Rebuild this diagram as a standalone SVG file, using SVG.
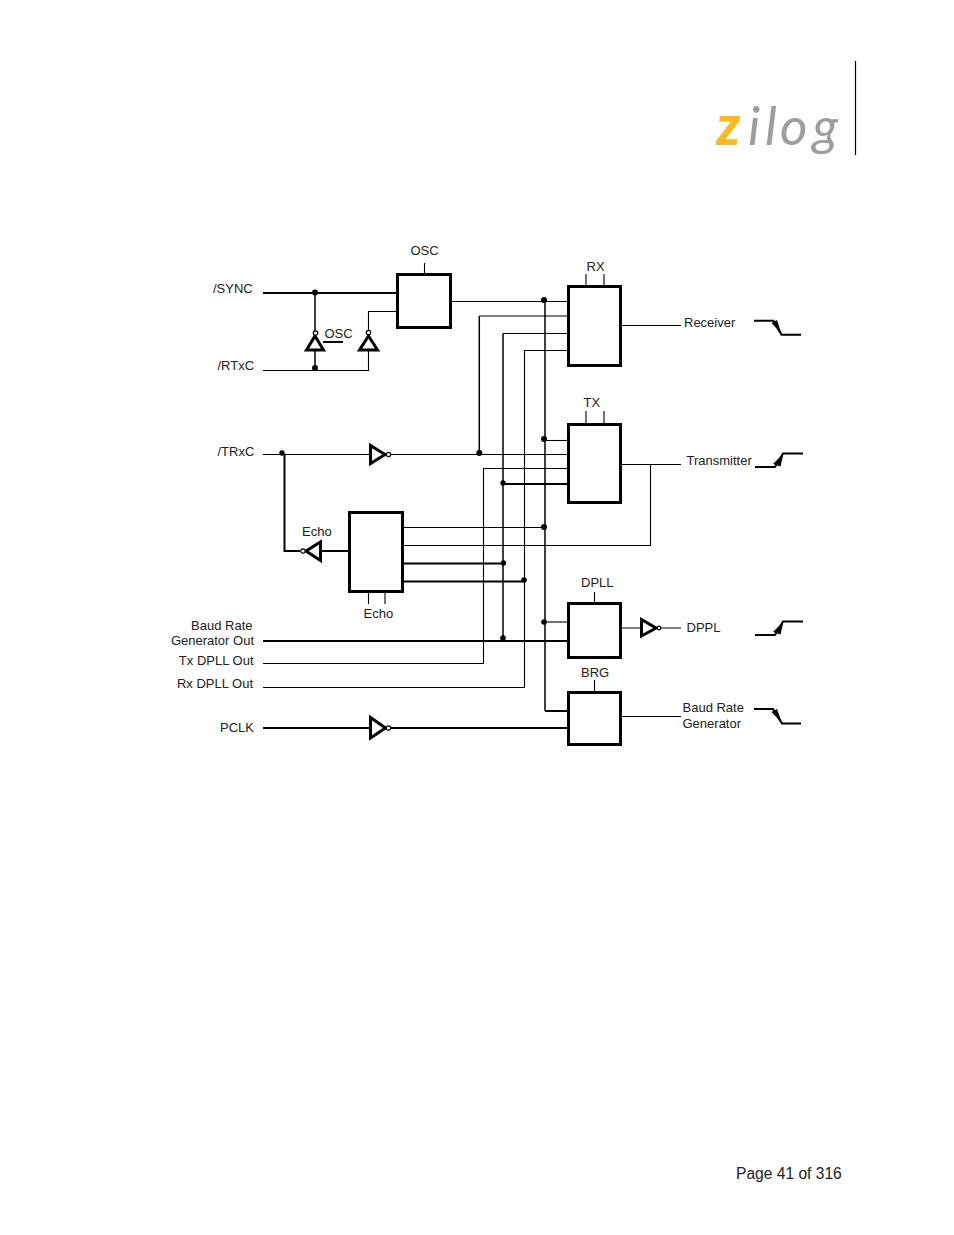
<svg xmlns="http://www.w3.org/2000/svg" width="954" height="1235" viewBox="0 0 954 1235">
<style>
text{font-family:"Liberation Sans",Arial,sans-serif;font-size:13px;fill:#222}
.w{fill:none;stroke:#000;stroke-width:1.1}
.m{fill:none;stroke:#000;stroke-width:1.5}
.t{fill:none;stroke:#000;stroke-width:2}
.b{fill:#fff;stroke:#000;stroke-width:3}
.g{fill:#fff;stroke:#000;stroke-width:3}
.c{fill:#fff;stroke:#000;stroke-width:1.2}
.d{fill:#000}
.logo{font-family:"Lato","Open Sans",sans-serif;font-size:53px;font-style:italic;fill:#9b9da1}
</style>
<rect width="954" height="1235" fill="#fff"/>
<g id="logo">
<line x1="855.5" y1="61" x2="855.5" y2="155" stroke="#000" stroke-width="1.2"/>
<text class="logo" x="716.500" y="145" style="font-weight:900;fill:#fdb924;font-size:55px">z</text>
<text class="logo" x="748" y="145">i</text>
<text class="logo" x="765" y="145">l</text>
<text class="logo" x="780" y="145">o</text>
<text class="logo" x="812.500" y="145">g</text>
</g>
<g id="connectors">
<path class="t" d="M263 293H397"/>
<path class="m" d="M315 293V368"/>
<path class="w" d="M263 370.500H368.500V350M368.500 330V311.500H397"/>
<path class="t" d="M323 342H343"/>
<path class="w" d="M424.500 263V274"/>
<path class="w" d="M451 301.500H568"/>
<path class="m" d="M545 300V711"/>
<path class="t" d="M545 711H568"/>
<path class="m" d="M479.300 453V316"/>
<path class="w" d="M479.300 316H568"/>
<path class="m" d="M503 638V333.500"/>
<path class="w" d="M503 333.500H568"/>
<path class="w" d="M263 687.500H524.500V350.500H568"/>
<path class="w" d="M544 440.500H568"/>
<path class="w" d="M263 454.500H370M391 454.500H568"/>
<path class="w" d="M263 663.500H483.500V468.500H568"/>
<path class="t" d="M503 484H568"/>
<path class="w" d="M621 325.500H681"/>
<path class="w" d="M621 464.500H681"/>
<path class="w" d="M650.500 464.500V545.500H403"/>
<path class="w" d="M403 527.500H544"/>
<path class="t" d="M403 563.500H503.500"/>
<path class="t" d="M403 581.500H524"/>
<path class="t" d="M321 551H349"/>
<path class="t" d="M300 551H284.500V454"/>
<path class="w" d="M368.500 592V604M385 592V604"/>
<path class="w" d="M586 274V285M604 274V285M586 411V423M604 411V423"/>
<path class="w" d="M594.500 592V603M594.500 680V692"/>
<path class="w" d="M544 622H568"/>
<path class="t" d="M263 641H568"/>
<path class="t" d="M263 728H370"/>
<path class="t" d="M391 728H568"/>
<path class="w" d="M621 628H641M661 628H681"/>
<path class="w" d="M621 716.500H681"/>
<circle class="d" cx="315" cy="292.500" r="3"/>
<circle class="d" cx="315" cy="368" r="3"/>
<circle class="d" cx="544" cy="300" r="3"/>
<circle class="d" cx="479.300" cy="453" r="3"/>
<circle class="d" cx="544" cy="439" r="3"/>
<circle class="d" cx="503" cy="483" r="2.700"/>
<circle class="d" cx="282" cy="453" r="2.700"/>
<circle class="d" cx="544" cy="527" r="3"/>
<circle class="d" cx="503.500" cy="563" r="2.700"/>
<circle class="d" cx="524" cy="580" r="2.800"/>
<circle class="d" cx="544" cy="622" r="2.800"/>
<circle class="d" cx="503" cy="638" r="2.800"/>
</g>
<g id="osc"><rect class="b" x="397.500" y="274.500" width="53" height="53"/><text x="410.500" y="255">OSC</text></g>
<g id="rx"><rect class="b" x="568.500" y="286.500" width="52" height="79"/><text x="586.500" y="271">RX</text></g>
<g id="tx"><rect class="b" x="568.500" y="424.500" width="52" height="78"/><text x="583.500" y="407">TX</text></g>
<g id="echo"><rect class="b" x="349.500" y="512.500" width="53" height="79"/><text x="302" y="536">Echo</text><text x="363.500" y="618">Echo</text></g>
<g id="dpll"><rect class="b" x="568.500" y="603.500" width="52" height="54"/><text x="581" y="587">DPLL</text></g>
<g id="brg"><rect class="b" x="568.500" y="692.500" width="52" height="52"/><text x="581" y="677">BRG</text></g>
<g id="inv-sync"><path class="g" d="M315 336L323.500 350H306.500Z"/><circle class="c" cx="315.500" cy="333" r="2.200"/><text x="324.500" y="338">OSC</text></g>
<g id="inv-rtxc"><path class="g" d="M368.500 336L377.500 350H359.500Z"/><circle class="c" cx="368.500" cy="332.500" r="2.200"/></g>
<g id="inv-trxc"><path class="g" d="M370.500 445.500L385 454.500L370.500 463.500Z"/><circle class="c" cx="388.500" cy="454.500" r="2.200"/></g>
<g id="inv-echo"><path class="g" d="M320.500 542V560.500L306 551Z"/><circle class="c" cx="303" cy="551" r="2.200"/></g>
<g id="inv-dpll"><path class="g" d="M641.500 619.500L656 628L641.500 636Z"/><circle class="c" cx="659" cy="628" r="1.800"/></g>
<g id="inv-pclk"><path class="g" d="M370.500 717.500L385.500 728L370.500 738Z"/><circle class="c" cx="388.500" cy="728" r="2.200"/></g>
<g id="labels">
<text x="213" y="293">/SYNC</text>
<text x="217.500" y="370">/RTxC</text>
<text x="217.500" y="456">/TRxC</text>
<text x="252.500" y="630" text-anchor="end">Baud Rate</text>
<text x="254" y="645" text-anchor="end">Generator Out</text>
<text x="253.500" y="665" text-anchor="end">Tx DPLL Out</text>
<text x="253" y="688" text-anchor="end">Rx DPLL Out</text>
<text x="220" y="732">PCLK</text>
<text x="684" y="327">Receiver</text>
<text x="686.500" y="465">Transmitter</text>
<text x="686.500" y="632">DPPL</text>
<text x="682.500" y="712">Baud Rate</text>
<text x="682.500" y="728">Generator</text>
<text x="736" y="1179" style="font-size:15.600px">Page 41 of 316</text>
</g>
<g id="wave-rx"><path class="t" d="M754 320.700H773.500L781.500 334.700H801"/><path class="d" d="M771.500 323L777 320L781.500 334Z"/></g>
<g id="wave-tx"><path class="t" d="M755 467H775L783 453.500H803"/><path class="d" d="M783.500 453.500L780.500 466.500L773 464Z"/></g>
<g id="wave-dppl"><path class="t" d="M755 635H775L783 621.500H803"/><path class="d" d="M783.500 621.500L780.500 634.500L773 632Z"/></g>
<g id="wave-brg"><path class="t" d="M754 709H773L782 723.500H801"/><path class="d" d="M771.500 712L777 709L782 723Z"/></g>
</svg>
